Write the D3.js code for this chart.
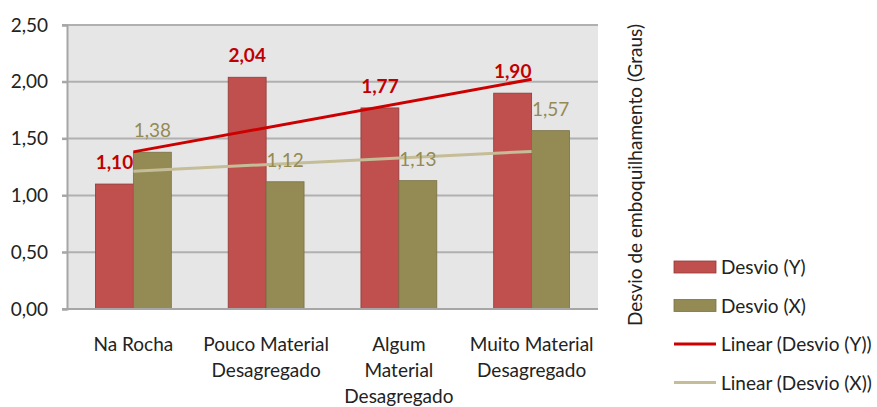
<!DOCTYPE html>
<html>
<head>
<meta charset="utf-8">
<script src="https://cdn.jsdelivr.net/npm/d3@7"></script>
<style>
body { margin: 0; background: #fff; }
text { font-family: Lato, "Open Sans", sans-serif; }
</style>
</head>
<body>
<div id="chart"></div>
<script>
// data
var categories = ["Na Rocha", "Pouco Material\nDesagregado", "Algum\nMaterial\nDesagregado", "Muito Material\nDesagregado"];
var desvioY = [1.10, 2.04, 1.77, 1.90];
var desvioX = [1.38, 1.12, 1.13, 1.57];
var yTicks = [0, 0.5, 1, 1.5, 2, 2.5];
var legendNames = ["Desvio (Y)", "Desvio (X)", "Linear (Desvio (Y))", "Linear (Desvio (X))"];
var axisTitle = "Desvio de emboquilhamento (Graus)";

var colY = "#C0504D", colX = "#948A54", trendY = "#CC0000", trendX = "#C4BD97";

var margin = {top: 25, right: 279, bottom: 98, left: 67},
    width = 877 - margin.left - margin.right,
    height = 407 - margin.top - margin.bottom;

var svg = d3.select("#chart")
    .append("svg")
    .attr("width", 877)
    .attr("height", 407)
    .append("g")
    .attr("transform", "translate(" + margin.left + "," + margin.top + ")");

var fmt = function(v) { return d3.format(".2f")(v).replace(".", ","); };

// scales
var x = d3.scaleBand()
    .domain(categories)
    .range([0, width])
    .paddingInner(1.5 / 3.5)
    .paddingOuter(0.75 / 3.5);

var xs = d3.scaleBand()
    .domain([0, 1])
    .range([0, x.bandwidth()]);

var y = d3.scaleLinear()
    .domain([0, 2.5])
    .range([height, 0]);

// plot background
svg.append("rect")
    .attr("width", width)
    .attr("height", height)
    .attr("fill", "#E6E6E6");

// gridlines
svg.selectAll("grid")
    .data(yTicks.slice(1))
    .enter()
    .append("line")
    .attr("x1", -5).attr("x2", width)
    .attr("y1", function(d) { return y(d) })
    .attr("y2", function(d) { return y(d) })
    .attr("stroke", "#B0B0B0")
    .attr("stroke-width", 2);

// Y axis
var yAxis = svg.append("g")
    .call(d3.axisLeft(y).tickValues(yTicks).tickFormat(fmt).tickSize(5).tickPadding(14));
yAxis.select(".domain").attr("stroke", "#A6A6A6").attr("stroke-width", 2);
yAxis.selectAll(".tick line").attr("stroke", "#A6A6A6").attr("stroke-width", 2);
yAxis.selectAll(".tick text")
    .attr("font-size", 19)
    .attr("fill", "#222")
    .style("font-family", "Lato, sans-serif");

// bars
var groups = [desvioY, desvioX];
var colors = [colY, colX];
var borders = ["#8E3A38", "#7A7145"];
groups.forEach(function(vals, s) {
    svg.selectAll("bars" + s)
        .data(vals)
        .enter()
        .append("rect")
        .attr("x", function(d, i) { return x(categories[i]) + xs(s) })
        .attr("y", function(d) { return y(d) })
        .attr("width", xs.bandwidth())
        .attr("height", function(d) { return height - y(d) })
        .attr("fill", colors[s])
        .attr("stroke", borders[s])
        .attr("stroke-width", 0.8);
});

// bottom axis line
svg.append("line")
    .attr("x1", -5).attr("x2", width)
    .attr("y1", height).attr("y2", height)
    .attr("stroke", "#A6A6A6")
    .attr("stroke-width", 2);

// linear trendlines (least squares on category index)
function fit(vals) {
    var n = vals.length, mx = (n + 1) / 2, my = d3.mean(vals);
    var sxy = d3.sum(vals, function(v, i) { return (i + 1 - mx) * (v - my) });
    var sxx = d3.sum(vals, function(v, i) { return (i + 1 - mx) * (i + 1 - mx) });
    var b = sxy / sxx, a = my - b * mx;
    return [1, n].map(function(k) { return {cat: categories[k - 1], value: a + b * k} });
}

[[desvioY, trendY], [desvioX, trendX]].forEach(function(t) {
    svg.append("path")
        .datum(fit(t[0]))
        .attr("fill", "none")
        .attr("stroke", t[1])
        .attr("stroke-width", 3)
        .attr("d", d3.line()
            .x(function(d) { return x(d.cat) + x.bandwidth() / 2 })
            .y(function(d) { return y(d.value) })
        );
});

// data labels
groups.forEach(function(vals, s) {
    svg.selectAll("labels" + s)
        .data(vals)
        .enter()
        .append("text")
        .attr("x", function(d, i) { return x(categories[i]) + xs(s) + xs.bandwidth() / 2 })
        .attr("y", function(d) { return y(d) - 15 })
        .attr("text-anchor", "middle")
        .attr("font-size", 19)
        .attr("font-weight", s == 0 ? "bold" : "normal")
        .attr("fill", s == 0 ? "#C00000" : colX)
        .text(fmt);
});

// category labels
svg.selectAll("catLabels")
    .data(categories)
    .enter()
    .append("text")
    .attr("text-anchor", "middle")
    .attr("font-size", 19)
    .attr("fill", "#222")
    .attr("transform", function(d) { return "translate(" + (x(d) + x.bandwidth() / 2) + "," + (height + 42) + ")" })
    .selectAll("tspan")
    .data(function(d) { return d.split("\n") })
    .enter()
    .append("tspan")
    .attr("x", 0)
    .attr("dy", function(d, i) { return i == 0 ? 0 : 26 })
    .text(function(d) { return d });

// axis title on the right
svg.append("text")
    .attr("transform", "translate(" + (width + 44) + "," + (150) + ") rotate(-90)")
    .attr("text-anchor", "middle")
    .attr("font-size", 19)
    .attr("fill", "#222")
    .text(axisTitle);

// legend
var legend = svg.append("g")
    .attr("transform", "translate(" + (width + 76) + "," + (242) + ")");

legendNames.forEach(function(name, i) {
    var row = legend.append("g").attr("transform", "translate(0," + (i * 38.5) + ")");
    if (i < 2) {
        row.append("rect")
            .attr("x", 0).attr("y", -6)
            .attr("width", 42).attr("height", 12)
            .attr("fill", colors[i])
            .attr("stroke", borders[i])
            .attr("stroke-width", 0.8);
    } else {
        row.append("line")
            .attr("x1", 0).attr("x2", 42)
            .attr("y1", 0).attr("y2", 0)
            .attr("stroke", i == 2 ? trendY : trendX)
            .attr("stroke-width", 3);
    }
    row.append("text")
        .attr("x", 47)
        .attr("y", 7)
        .attr("font-size", 19)
        .attr("fill", "#222")
        .text(name);
});
</script>
</body>
</html>
